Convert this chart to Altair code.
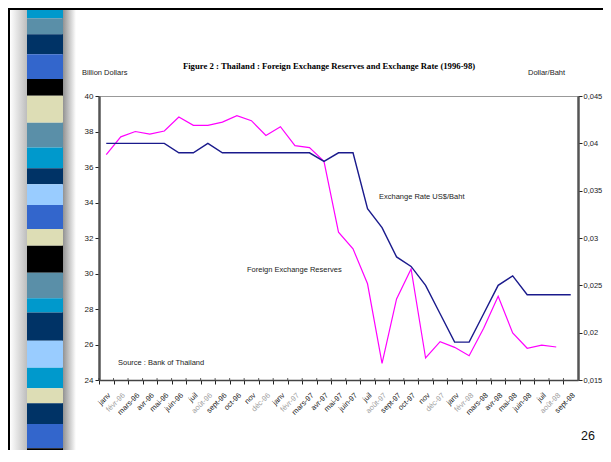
import json
import altair as alt
import pandas as pd

# ---------------- data ----------------
tick_labels = ["janv", "févr-96", "mars-96", "avr-96", "mai-96", "juin-96", "juil", "août-96",
               "sept-96", "oct-96", "nov", "déc-96",
               "janv", "févr-97", "mars-97", "avr-97", "mai-97", "juin-97", "juil", "août-97",
               "sept-97", "oct-97", "nov", "déc-97",
               "janv", "févr-98", "mars-98", "avr-98", "mai-98", "juin-98", "juil", "août-98",
               "sept-98"]
reserves = [36.7, 37.7, 38.0, 37.85, 38.03, 38.82, 38.35, 38.35, 38.53, 38.89, 38.61, 37.78,
            38.27, 37.2, 37.09, 36.32, 32.33, 31.39, 29.42, 24.94, 28.57, 30.26, 25.24, 26.16,
            25.84, 25.37, 26.91, 28.72, 26.65, 25.79, 25.96, 25.86, None]
exchange_rate = [0.040, 0.040, 0.040, 0.040, 0.040, 0.039, 0.039, 0.040, 0.039, 0.039, 0.039, 0.039,
                 0.039, 0.039, 0.039, 0.0381, 0.039, 0.039, 0.0331, 0.0311, 0.0280, 0.0270, 0.0250, 0.0220,
                 0.0190, 0.0190, 0.0220, 0.0250, 0.0260, 0.0240, 0.0240, 0.0240, 0.0240]
faded_labels = [1, 7, 11, 13, 19, 23, 25, 31]
left_ticks = [24, 26, 28, 30, 32, 34, 36, 38, 40]
right_ticks = [0.015, 0.02, 0.025, 0.03, 0.035, 0.04, 0.045]

title_text = "Figure 2 : Thailand : Foreign Exchange Reserves and Exchange Rate (1996-98)"
left_title = "Billion Dollars"
right_title = "Dollar/Baht"
note_rate = "Exchange Rate US$/Baht"
note_reserves = "Foreign Exchange Reserves"
note_source = "Source : Bank of Thailand"
page_number = "26"

# decorative stripe band (colours, page y boundaries)
stripe_colors = ["#0099CC", "#5A8FA8", "#003366", "#3366CC", "#000000", "#DDDDB5", "#5A8FA8",
                 "#0099CC", "#003366", "#99CCFF", "#3366CC", "#DDDDB5", "#000000", "#5A8FA8",
                 "#0099CC", "#003366", "#99CCFF", "#0099CC", "#DDDDB5", "#003366", "#3366CC",
                 "#000000"]
stripe_edges = [8, 18.3, 34.3, 54.3, 79, 95.7, 122.7, 147.5, 168.3, 184.3, 205, 229, 245.7,
                272.7, 298.3, 312.5, 340.7, 367.7, 388.3, 403.3, 424, 448.3, 462]

# ---------------- layout ----------------
W, H = 479, 284
PAD_L, PAD_T = 91, 88
SVG_W, SVG_H = 595, 442
OX, OY = 8 + PAD_L, 8 + PAD_T  # page position of plot origin
step = W / len(tick_labels)
FONT = "Liberation Sans"

df = pd.DataFrame({"idx": list(range(len(tick_labels))),
                   "reserves": reserves, "rate": exchange_rate})

x_enc = alt.X(
    "idx:O",
    scale=alt.Scale(type="point", padding=0.5),
    axis=alt.Axis(
        title=None,
        labelExpr=json.dumps(tick_labels, ensure_ascii=False) + "[datum.value]",
        labelAngle=-45,
        labelFont=FONT, labelFontSize=7.5,
        labelColor={"condition": {"test": "indexof(" + json.dumps(faded_labels) + ", datum.value) >= 0",
                                  "value": "#a0a0a0"}, "value": "#222222"},
        tickOffset=-step / 2, labelOffset=step / 2,
        tickSize=4, tickColor="#222222", tickWidth=1,
        domainColor="#444444", domainWidth=1.5,
        labelPadding=7, grid=False,
    ),
)

reserves_line = alt.Chart(df).transform_filter("isValid(datum.reserves)").mark_line(
    color="#FF00FF", strokeWidth=1.2
).encode(
    x=x_enc,
    y=alt.Y("reserves:Q", scale=alt.Scale(domain=[24, 40], nice=False, zero=False),
            axis=alt.Axis(orient="left", title=None, values=left_ticks, grid=False,
                          labelFont=FONT, labelFontSize=8, labelColor="#222222",
                          tickSize=4, tickColor="#222222", domainColor="#555555",
                          domainWidth=2.5, labelPadding=2)),
)

rate_line = alt.Chart(df).mark_line(color="#1A1A8C", strokeWidth=1.4).encode(
    x=x_enc,
    y=alt.Y("rate:Q", scale=alt.Scale(domain=[0.015, 0.045], nice=False, zero=False),
            axis=alt.Axis(orient="right", title=None, values=right_ticks, grid=False,
                          labelExpr="replace(format(datum.value, '.3~f'), '.', ',')",
                          labelFont=FONT, labelFontSize=7.5, labelColor="#222222",
                          tickSize=4, tickColor="#222222", domainColor="#555555",
                          domainWidth=2.5, labelPadding=1)),
)

# small ticks crossing the category axis (upper half), at category boundaries
cross_ticks = alt.Chart(df).mark_tick(color="#222222", thickness=1, size=4, xOffset=-step / 2,
                                      yOffset=-2).encode(x=x_enc, y=alt.value(H))

one = pd.DataFrame({"a": [0]})


def px(x):
    return x - OX


def py(y):
    return y - OY


layers = []

# slide shadow around stripe band
layers.append(alt.Chart(one).mark_rect(
    fill=alt.LinearGradient(gradient="linear",
                            stops=[alt.GradientStop(color="#ffffff", offset=0),
                                   alt.GradientStop(color="#bdbdbd", offset=1)],
                            x1=0, x2=1, y1=0, y2=0)
).encode(x=alt.value(px(10)), x2=alt.value(px(27)), y=alt.value(py(8)), y2=alt.value(py(462))))
layers.append(alt.Chart(one).mark_rect(
    fill=alt.LinearGradient(gradient="linear",
                            stops=[alt.GradientStop(color="#8a8a8a", offset=0),
                                   alt.GradientStop(color="#ffffff", offset=1)],
                            x1=0, x2=1, y1=0, y2=0)
).encode(x=alt.value(px(62)), x2=alt.value(px(76)), y=alt.value(py(8)), y2=alt.value(py(462))))

# stripes
for i, c in enumerate(stripe_colors):
    layers.append(alt.Chart(one).mark_rect(color=c).encode(
        x=alt.value(px(27)), x2=alt.value(px(63)),
        y=alt.value(py(stripe_edges[i])), y2=alt.value(py(stripe_edges[i + 1]))))

# slide frame
layers.append(alt.Chart(one).mark_rule(color="#000000", strokeWidth=2).encode(
    x=alt.value(px(8)), x2=alt.value(px(611)), y=alt.value(py(9)), y2=alt.value(py(9))))
layers.append(alt.Chart(one).mark_rule(color="#000000", strokeWidth=2).encode(
    x=alt.value(px(9)), x2=alt.value(px(9)), y=alt.value(py(8)), y2=alt.value(py(462))))

layers += [reserves_line, rate_line, cross_ticks]


def label(text, x, y, align="left", size=7.5, font=FONT, weight="normal", color="#222222"):
    return alt.Chart(one).mark_text(
        text=text, align=align, baseline="middle", font=font, fontSize=size,
        fontWeight=weight, color=color
    ).encode(x=alt.value(px(x)), y=alt.value(py(y)))


layers += [
    label(title_text, 329, 66, align="center", size=8.7, font="Liberation Serif", weight="bold",
          color="#000000"),
    label(left_title, 82, 73),
    label(right_title, 528, 73),
    label(note_rate, 379, 197),
    label(note_reserves, 247, 270),
    label(note_source, 118, 363),
    label(page_number, 588, 436, align="center", size=12.5, color="#111111"),
]

chart = alt.layer(*layers).resolve_scale(y="independent").properties(
    width=W, height=H,
    autosize=alt.AutoSizeParams(type="none"),
    padding={"left": PAD_L, "top": PAD_T, "right": SVG_W - PAD_L - W, "bottom": SVG_H - PAD_T - H},
    background="#ffffff",
).configure_view(stroke="#999999", strokeWidth=1)

chart.save("out.html", embed_options={"renderer": "svg", "actions": False})
